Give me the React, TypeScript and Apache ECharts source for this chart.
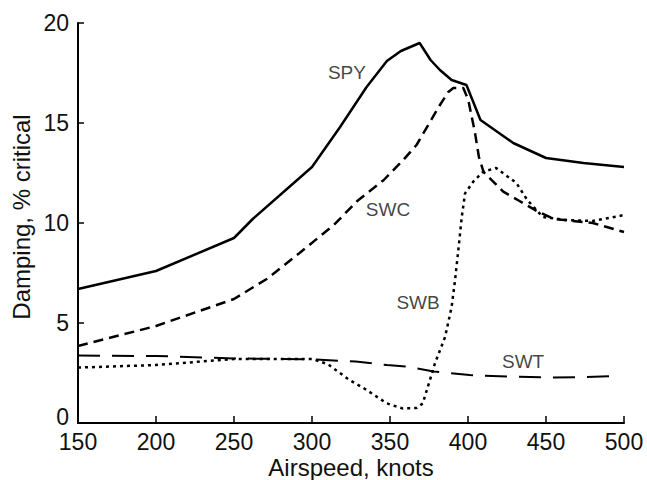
import React, { useEffect, useRef } from "react";
import * as echarts from "echarts";

const spy: [number, number][] = [
  [150, 6.7], [200, 7.6], [250, 9.25], [262, 10.2], [300, 12.8], [318, 14.8], [335, 16.8],
  [348, 18.1], [357, 18.6], [369, 19.0], [376, 18.15], [382, 17.65], [389.5, 17.15],
  [399, 16.9], [408, 15.15], [429, 14.0], [450, 13.25], [474, 13.0], [500, 12.8],
];
const swc: [number, number][] = [
  [150, 3.85], [200, 4.85], [250, 6.2], [271, 7.2], [292, 8.5], [314, 9.9], [329, 11.1],
  [346, 12.15], [358.5, 13.15], [367, 13.9], [375.6, 15.05], [382, 15.9], [387.4, 16.55],
  [390.6, 16.75], [397, 16.75], [400.2, 16.15], [404.5, 14.5], [407, 13.3], [410, 12.55],
  [422.6, 11.57], [433, 11.1], [444, 10.6], [455, 10.2], [480, 10.0], [500, 9.55],
];
const swb: [number, number][] = [
  [150, 2.77], [200, 2.9], [250, 3.2], [300, 3.2], [310, 2.95], [324, 2.15], [333, 1.75],
  [348, 0.98], [358, 0.73], [367, 0.75], [371, 0.98], [375.6, 2.15], [378.8, 2.98],
  [385.3, 4.3], [389.5, 5.8], [391.7, 7.15], [393.8, 8.65], [396, 10.3], [398.1, 11.48],
  [403.4, 12.07], [409.8, 12.57], [418, 12.75], [431, 12.0], [438, 11.15], [448, 10.3],
  [463, 10.15], [480, 10.1], [497, 10.35], [500, 10.4],
];
const swt: [number, number][] = [
  [150, 3.37], [200, 3.35], [250, 3.23], [300, 3.18], [328, 3.07], [348, 2.9], [361, 2.82],
  [378, 2.57], [401, 2.4], [425, 2.32], [455, 2.28], [475, 2.3], [494, 2.35],
];
const curveLabels: { name: string; value: [number, number] }[] = [
  { name: "SPY", value: [322.4, 17.55] },
  { name: "SWC", value: [348.7, 10.7] },
  { name: "SWB", value: [368, 6.05] },
  { name: "SWT", value: [435.3, 3.1] },
];
const xTitle = "Airspeed, knots";
const yTitle = "Damping, % critical";

const FONT = "'Liberation Sans', Arial, Helvetica, sans-serif";

export default function App() {
  const ref = useRef<HTMLDivElement>(null);
  useEffect(() => {
    if (!ref.current) return;
    document.body.style.margin = "0";
    const chart = echarts.init(ref.current, undefined, { renderer: "svg" });
    const lineSeries = (name: string, data: [number, number][], type: string | number[], width: number) => ({
      name,
      type: "line",
      data,
      symbol: "none",
      smooth: false,
      lineStyle: { color: "#000", width, type },
      z: 3,
    });
    chart.setOption({
      animation: false,
      backgroundColor: "#fff",
      grid: { left: 78, right: 23, top: 23, bottom: 57 },
      xAxis: {
        type: "value",
        min: 150,
        max: 500,
        interval: 50,
        axisLine: { show: true, lineStyle: { color: "#000", width: 2 } },
        axisTick: { show: true, inside: true, length: 7, lineStyle: { color: "#000", width: 1.5 } },
        axisLabel: { color: "#111", fontSize: 23, lineHeight: 18, fontFamily: FONT, margin: 10 },
        splitLine: { show: false },
      },
      yAxis: {
        type: "value",
        min: 0,
        max: 20,
        interval: 5,
        axisLine: { show: true, lineStyle: { color: "#000", width: 2 } },
        axisTick: { show: true, inside: true, length: 6, lineStyle: { color: "#000", width: 1.5 } },
        axisLabel: {
          color: "#111",
          fontSize: 23,
          lineHeight: 18,
          fontFamily: FONT,
          margin: 9,
          formatter: (v: number) => (v === 0 ? "{z|0}" : String(v)),
          rich: {
            z: { color: "#111", fontSize: 23, lineHeight: 18, fontFamily: FONT, padding: [0, 0, 12, 0] },
          },
        },
        splitLine: { show: false },
      },
      graphic: [
        {
          type: "text",
          x: 351,
          y: 467,
          style: { text: xTitle, fill: "#111", font: `24px ${FONT}`, textAlign: "center", textVerticalAlign: "middle" },
        },
        {
          type: "text",
          x: 21,
          y: 217,
          rotation: Math.PI / 2,
          style: { text: yTitle, fill: "#111", font: `24px ${FONT}`, textAlign: "center", textVerticalAlign: "middle" },
        },
      ],
      series: [
        lineSeries("SPY", spy, "solid", 2.5),
        lineSeries("SWC", swc, [10, 6], 2.5),
        lineSeries("SWB", swb, [3, 4], 2.5),
        lineSeries("SWT", swt, [22, 12], 2),
        {
          type: "scatter",
          data: curveLabels,
          symbolSize: 1,
          itemStyle: { color: "rgba(0,0,0,0)" },
          label: {
            show: true,
            position: "inside",
            formatter: (p: any) => p.name,
            color: "#111",
            fontSize: 19,
            fontFamily: FONT,
          },
          z: 4,
        },
      ],
    });
    return () => chart.dispose();
  }, []);
  return <div ref={ref} style={{ width: 647, height: 480 }} />;
}
